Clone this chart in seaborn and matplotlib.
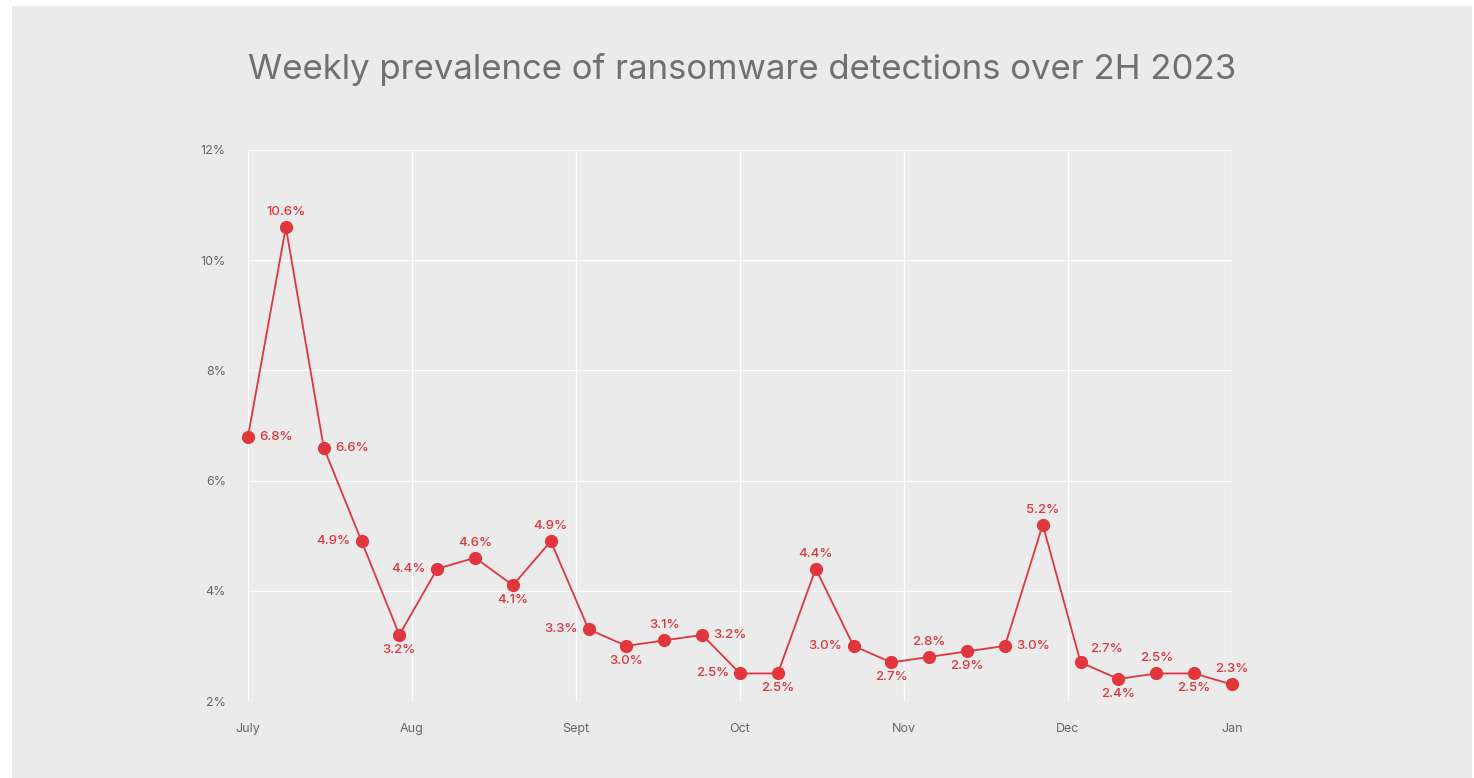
import matplotlib
matplotlib.use("Agg")
import matplotlib.pyplot as plt
import seaborn as sns
import numpy as np
import pandas as pd
from matplotlib.patches import Rectangle

# ---- data ----
months = ["July", "Aug", "Sept", "Oct", "Nov", "Dec", "Jan"]
week_index = list(range(27))
prevalence = [6.8, 10.6, 6.6, 4.9, 3.2, 4.4, 4.6, 4.1, 4.9, 3.3, 3.0, 3.1, 3.2,
              2.5, 2.5, 4.4, 3.0, 2.7, 2.8, 2.9, 3.0, 5.2, 2.7, 2.4, 2.5, 2.5, 2.3]
y_ticks = [2, 4, 6, 8, 10, 12]
title = "Weekly prevalence of ransomware detections over 2H 2023"

# label placement (layout only)
label_side = ["r", "t", "r", "l", "b", "l", "t", "b", "t", "l", "b", "t", "r",
              "l", "b", "t", "l", "b", "t", "b", "r", "t", "tr", "b", "t", "b", "t"]

sns.set_theme(style="whitegrid")
plt.rcParams["font.family"] = ["Inter", "DejaVu Sans"]

BG = "#ebebeb"
RED = "#e0363c"
fig = plt.figure(figsize=(14.74, 7.78), dpi=100)
fig.patch.set_facecolor("white")
fig.patches.append(Rectangle((12 / 1474, 0), (1472 - 12) / 1474, 1 - 6 / 778,
                             transform=fig.transFigure, facecolor=BG,
                             edgecolor="none", zorder=-10))

ax = fig.add_axes([248 / 1474, 1 - 701 / 778, (1232 - 248) / 1474, (701 - 150) / 778])
ax.set_facecolor(BG)

df = pd.DataFrame({"week": week_index, "value": prevalence})
sns.lineplot(data=df, x="week", y="value", ax=ax, color=RED, linewidth=1.3,
             marker="o", markersize=9.5, markeredgewidth=0, markerfacecolor=RED,
             zorder=5, clip_on=False)

offsets = {"r": (8, 0, "left", "center"), "l": (-8, 0, "right", "center"),
           "t": (0, 6.5, "center", "bottom"), "b": (0, -6.5, "center", "top"),
           "tr": (7, 5, "left", "bottom")}
for x, v, side in zip(week_index, prevalence, label_side):
    dx, dy, ha, va = offsets[side]
    ax.annotate(f"{v:.1f}%", (x, v), xytext=(dx, dy), textcoords="offset points",
                ha=ha, va=va, fontsize=9.5, color=RED, fontweight="medium", zorder=6,
                annotation_clip=False)

ax.set_xlim(0, 26)
ax.set_ylim(2, 12)
ax.set_xticks(np.linspace(0, 26, len(months)))
ax.set_xticklabels(months)
ax.set_yticks(y_ticks)
ax.set_yticklabels([f"{t}%" for t in y_ticks])
ax.grid(True, color="white", linewidth=1.0)
for s in ax.spines.values():
    s.set_visible(False)
ax.tick_params(axis="both", length=0, colors="#666666", labelsize=9)
ax.tick_params(axis="x", pad=16)
ax.tick_params(axis="y", pad=16)
ax.set_xlabel("")
ax.set_ylabel("")

fig.text(742 / 1474, 1 - 70 / 778, title, ha="center", va="center",
         fontsize=25, color="#707070")

fig.savefig("out.png", dpi=100, facecolor=fig.get_facecolor())
